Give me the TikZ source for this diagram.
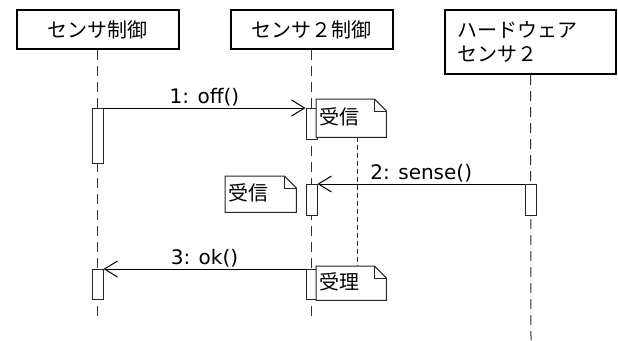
\documentclass[tikz,border=0pt]{standalone}
\usepackage{fontspec}
\setmainfont{DejaVu Sans}
\newfontfamily\cjk{Noto Sans CJK JP}
\usetikzlibrary{arrows.meta,calc}
\begin{document}
\begin{tikzpicture}[x=1pt,y=-1pt,
  every node/.style={font=\fontsize{20}{24}\selectfont},
  head/.style={draw,line width=2pt,fill=white,inner sep=0pt,minimum height=39pt},
  lifeline/.style={draw=black!80,line width=1pt,dash pattern=on 10pt off 6pt},
  act/.style={draw=black!85,line width=1pt,fill=white,minimum width=11pt,inner sep=0pt,anchor=north},
  msg/.style={draw,line width=1pt,-{Straight Barb[length=13pt,width=16pt,line width=1pt]}},
  lbl/.style={above,inner sep=1pt},
  notebox/.style={inner sep=0pt,anchor=north west,align=left,text width=#1},
  noteline/.style={draw=black!80,line width=1pt,dash pattern=on 5pt off 3pt},
  notepath/.style={draw=black!85,line width=1pt,fill=white}
]
\useasboundingbox (0,0) rectangle (618,340);
\newcommand{\umlnote}[1]{%
  \path[notepath] (#1.north west) -- ($(#1.north east)+(-12,0)$) -- ($(#1.north east)+(0,12)$) -- (#1.south east) -- (#1.south west) -- cycle;
  \draw[line width=1pt,draw=black!85] ($(#1.north east)+(-12,0)$) -- ($(#1.north east)+(-12,12)$) -- ($(#1.north east)+(0,12)$);
}

% heads
\node[head,minimum width=162pt] (h1) at (97.5,29.5) {\cjk センサ制御};
\node[head,minimum width=162pt] (h2) at (311.5,29.5) {\cjk センサ２制御};
\node[head,minimum width=171pt,minimum height=64pt,text width=147pt,align=left,inner xsep=12pt] (h3) at (530.5,42) {\cjk ハードウェア\\センサ２};

% lifeline ends
\coordinate (e1) at (97.5,318);
\coordinate (e2) at (311.5,318);
\coordinate (e3) at (531,340);
\draw[lifeline] (h1.south) -- (e1);
\draw[lifeline] (h2.south) -- (e2);
\draw[lifeline] (h3.south) -- (e3);

% activations
\node[act,minimum height=55pt] (a1) at (97.5,108) {};
\node[act,minimum height=31pt] (a2) at (311.5,108) {};
\node[act,minimum height=31pt] (a3) at (531,184) {};
\node[act,minimum height=31pt] (a4) at (311.5,184) {};
\node[act,minimum height=30pt] (a5) at (311.5,269) {};
\node[act,minimum height=30pt] (a6) at (97.5,269) {};

% messages
\draw[msg] (a1.north east) -- node[lbl] (l1) {1: off()} (a2.north west);
\draw[msg] (a3.north west) -- node[lbl] (l2) {2: sense()} (a4.north east);
\draw[msg] (a5.north west) -- node[lbl] (l3) {3: ok()} (a6.north east);

% notes
\node[notebox=70pt,minimum height=38pt] (n1) at (316,99) {};
\umlnote{n1}
\node[anchor=west,inner sep=0pt] (t1) at ($(n1.west)+(3,-1)$) {\cjk 受信};
\node[notebox=71pt,minimum height=36pt] (n2) at (225,176) {};
\umlnote{n2}
\node[anchor=west,inner sep=0pt] (t2) at ($(n2.west)+(3,-1)$) {\cjk 受信};
\node[notebox=70pt,minimum height=34pt] (n3) at (316,266) {};
\umlnote{n3}
\node[anchor=west,inner sep=0pt] (t3) at ($(n3.west)+(3,-1)$) {\cjk 受理};

\draw[noteline] ($(n1.south west)+(41,0)$) -- ($(n3.north west)+(41,0)$);
\end{tikzpicture}
\end{document}
